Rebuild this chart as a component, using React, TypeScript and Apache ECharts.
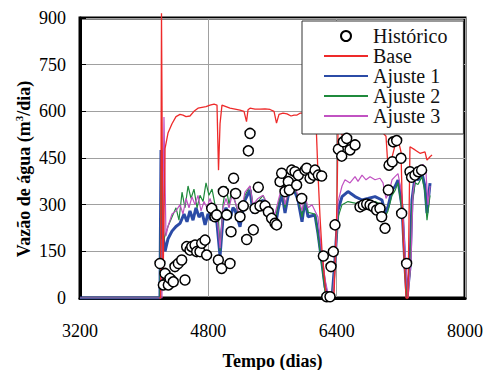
import React, { useEffect, useRef } from "react";
import * as echarts from "echarts";

const FONT = "Liberation Serif";

const xTicks = [3200, 4800, 6400, 8000];
const yTicks = [0, 150, 300, 450, 600, 750, 900];

const historico: [number, number][] = [
  [4197, 111], [4239, 42], [4260, 79], [4301, 42], [4322, 63], [4363, 52], [4384, 101], [4426, 111],
  [4468, 122], [4509, 58], [4530, 165], [4571, 154], [4593, 165], [4634, 170], [4655, 149], [4696, 149],
  [4717, 176], [4759, 186], [4779, 138], [4842, 288], [4883, 261], [4904, 267], [4925, 122], [4966, 95],
  [4987, 342], [5029, 267], [5070, 111], [5083, 213], [5115, 385], [5140, 336], [5195, 261], [5236, 296],
  [5278, 188], [5299, 473], [5320, 529], [5361, 219], [5382, 288], [5423, 356], [5444, 296], [5507, 296],
  [5548, 277], [5589, 256], [5631, 240], [5651, 235], [5694, 374], [5714, 401], [5756, 342], [5797, 374],
  [5810, 347], [5839, 411], [5881, 406], [5901, 363], [5922, 395], [5964, 320], [6005, 411], [6026, 417],
  [6068, 385], [6109, 395], [6130, 411], [6171, 395], [6213, 392], [6234, 135], [6276, 4], [6317, 4],
  [6329, 101], [6358, 149], [6379, 235], [6421, 478], [6463, 456], [6483, 502], [6525, 513], [6566, 476],
  [6629, 492], [6691, 293], [6732, 299], [6774, 302], [6816, 299], [6857, 293], [6898, 283], [6940, 288],
  [6961, 261], [7003, 224], [7044, 347], [7053, 427], [7094, 438], [7106, 502], [7148, 506], [7202, 449],
  [7210, 272], [7272, 111], [7314, 406], [7334, 388], [7376, 395], [7418, 406], [7459, 411],
];

const base: [number, number][] = [
  [4190, 0], [4205, 0], [4216, 915], [4235, 40], [4260, 480], [4297, 530], [4347, 560], [4397, 583],
  [4447, 590], [4484, 588], [4522, 583], [4571, 585], [4621, 600], [4671, 610], [4721, 613], [4771, 615],
  [4821, 620], [4871, 623], [4908, 620], [4927, 411], [4946, 560], [4970, 620], [5020, 615], [5070, 610],
  [5133, 607], [5195, 604], [5245, 600], [5276, 567], [5295, 605], [5320, 610], [5382, 607], [5444, 607],
  [5507, 608], [5569, 606], [5619, 600], [5650, 562], [5681, 590], [5731, 594], [5781, 592], [5831, 585],
  [5868, 588], [5906, 588], [5943, 594], [6005, 594], [6068, 596], [6117, 594], [6142, 570], [6167, 400],
  [6192, 262], [6217, 154], [6267, 10], [6317, 0], [6367, 5], [6404, 300], [6417, 551], [6463, 524],
  [6516, 530], [6591, 530], [6691, 532], [6791, 535], [6903, 535], [6978, 530], [7015, 520], [7040, 420],
  [7078, 440], [7127, 490], [7165, 510], [7202, 470], [7227, 200], [7265, 0], [7289, 0], [7314, 486],
  [7377, 476], [7439, 465], [7501, 470], [7526, 443], [7564, 454], [7589, 460],
];

const ajuste1: [number, number][] = [
  [3200, 0], [4197, 0], [4210, 476], [4235, 200], [4260, 150], [4297, 190], [4347, 215], [4397, 230],
  [4447, 240], [4497, 270], [4534, 245], [4571, 280], [4609, 250], [4646, 290], [4684, 260], [4721, 275],
  [4759, 235], [4796, 270], [4833, 250], [4871, 265], [4908, 240], [4946, 135], [4983, 260], [5020, 290],
  [5070, 255], [5108, 290], [5133, 283], [5195, 229], [5257, 315], [5320, 347], [5357, 273], [5419, 293],
  [5482, 315], [5544, 273], [5631, 225], [5669, 283], [5719, 337], [5756, 273], [5793, 326], [5856, 358],
  [5918, 315], [5968, 245], [6005, 315], [6043, 261], [6130, 267], [6167, 208], [6217, 112], [6255, 36],
  [6292, 0], [6342, 0], [6379, 122], [6417, 283], [6467, 326], [6541, 342], [6629, 326], [6716, 315],
  [6790, 320], [6878, 326], [6965, 315], [7003, 273], [7040, 293], [7090, 347], [7127, 358], [7165, 379],
  [7215, 293], [7252, 100], [7277, 0], [7314, 100], [7339, 315], [7377, 390], [7414, 379], [7464, 401],
  [7501, 358], [7526, 273], [7564, 369],
];

const ajuste2: [number, number][] = [
  [3200, 0], [4197, 0], [4210, 420], [4235, 180], [4260, 200], [4297, 230], [4347, 260], [4397, 290],
  [4434, 250], [4472, 340], [4509, 290], [4547, 360], [4584, 320], [4621, 350], [4659, 290], [4696, 330],
  [4734, 310], [4771, 370], [4808, 330], [4846, 350], [4883, 300], [4921, 280], [4946, 150], [4983, 300],
  [5020, 360], [5058, 300], [5095, 350], [5133, 310], [5195, 250], [5257, 330], [5320, 360], [5357, 290],
  [5419, 310], [5482, 330], [5544, 290], [5631, 240], [5669, 300], [5719, 350], [5756, 290], [5793, 340],
  [5856, 365], [5918, 325], [5968, 260], [6005, 325], [6043, 275], [6130, 270], [6167, 200], [6217, 100],
  [6255, 20], [6292, 0], [6342, 0], [6379, 100], [6417, 260], [6467, 300], [6541, 310], [6629, 305],
  [6716, 300], [6790, 305], [6878, 310], [6965, 300], [7003, 260], [7040, 280], [7090, 330], [7127, 345],
  [7165, 370], [7215, 280], [7252, 80], [7277, 0], [7314, 80], [7339, 300], [7377, 370], [7414, 365],
  [7464, 390], [7501, 340], [7526, 250], [7564, 330],
];

const ajuste3: [number, number][] = [
  [3200, 0], [4222, 0], [4247, 582], [4272, 200], [4297, 230], [4347, 270], [4397, 280], [4447, 300],
  [4484, 270], [4522, 320], [4559, 290], [4596, 325], [4634, 300], [4671, 330], [4709, 280], [4746, 310],
  [4783, 290], [4821, 320], [4858, 290], [4896, 300], [4946, 160], [4983, 290], [5020, 320], [5058, 290],
  [5095, 330], [5133, 310], [5195, 260], [5257, 340], [5320, 360], [5357, 300], [5419, 320], [5482, 330],
  [5544, 300], [5631, 270], [5669, 310], [5719, 360], [5756, 300], [5793, 340], [5856, 370], [5918, 330],
  [5968, 280], [6005, 330], [6043, 290], [6093, 300], [6130, 280], [6167, 260], [6217, 140], [6255, 60],
  [6304, 0], [6354, 20], [6392, 150], [6417, 310], [6467, 360], [6504, 380], [6566, 370], [6629, 390],
  [6666, 375], [6716, 395], [6766, 380], [6816, 390], [6878, 380], [6940, 385], [6978, 370], [7015, 320],
  [7053, 340], [7090, 380], [7127, 390], [7165, 400], [7215, 330], [7252, 150], [7289, 0], [7327, 120],
  [7352, 340], [7389, 400], [7427, 410], [7476, 430], [7514, 400], [7539, 300], [7564, 360],
];

const legendNames = ["Histórico", "Base", "Ajuste 1", "Ajuste 2", "Ajuste 3"];

export default function App() {
  const ref = useRef<HTMLDivElement>(null);
  useEffect(() => {
    if (!ref.current) return;
    const chart = echarts.init(ref.current, null, { renderer: "svg" });
    const lineSeries = (name: string, data: [number, number][], color: string, width: number, clip = true) => ({
      name,
      type: "line",
      data,
      showSymbol: false,
      symbol: "none",
      lineStyle: { color, width },
      itemStyle: { color },
      clip,
    });
    const hiddenSymbol = { opacity: 0, borderWidth: 0 };
    chart.setOption({
      animation: false,
      backgroundColor: "#fff",
      textStyle: { fontFamily: FONT },
      grid: {
        left: 80,
        right: 21,
        top: 18,
        bottom: 72,
        containLabel: false,
        outerBoundsMode: "none",
        show: true,
        borderColor: "#000",
        borderWidth: 3,
      },
      xAxis: {
        type: "value",
        min: xTicks[0],
        max: xTicks[xTicks.length - 1],
        interval: 1600,
        name: "Tempo (dias)",
        nameLocation: "middle",
        nameGap: 54,
        nameTextStyle: { fontFamily: FONT, fontWeight: "bold", fontSize: 18, color: "#000" },
        axisLine: { show: true, lineStyle: { color: "#000", width: 3 } },
        axisTick: { show: false },
        axisLabel: {
          fontFamily: FONT,
          fontSize: 18,
          color: "#000",
          margin: 24,
          formatter: (v: number) => String(v),
        },
        splitLine: { show: true, lineStyle: { color: "#a0a0a0", width: 1 } },
      },
      yAxis: {
        type: "value",
        min: yTicks[0],
        max: yTicks[yTicks.length - 1],
        interval: 150,
        axisLine: { show: true, lineStyle: { color: "#000", width: 3 } },
        axisTick: { show: true, inside: true, length: 6, lineStyle: { color: "#000", width: 1 } },
        axisLabel: { fontFamily: FONT, fontSize: 18, color: "#000", margin: 14 },
        splitLine: { show: true, lineStyle: { color: "#a0a0a0", width: 1 } },
      },
      legend: {
        orient: "vertical",
        left: 302,
        top: 21,
        padding: [5, 16, 8, 21],
        itemGap: 0,
        itemWidth: 44,
        itemHeight: 10,
        backgroundColor: "#fff",
        borderColor: "#333",
        borderWidth: 1,
        borderRadius: 0,
        textStyle: { fontFamily: FONT, fontSize: 20, color: "#111", lineHeight: 17 },
        data: [
          { name: legendNames[0], icon: "circle" },
          { name: legendNames[1], itemStyle: hiddenSymbol },
          { name: legendNames[2], itemStyle: hiddenSymbol },
          { name: legendNames[3], itemStyle: hiddenSymbol },
          { name: legendNames[4], itemStyle: hiddenSymbol },
        ],
      },
      graphic: [
        {
          type: "text",
          x: 24,
          y: 169,
          rotation: Math.PI / 2,
          style: {
            text: "{n|Vazão de água (m}{s|3}{n|/dia)}",
            align: "center",
            verticalAlign: "middle",
            rich: {
              n: { fontFamily: FONT, fontWeight: "bold", fontSize: 18, fill: "#000" },
              s: { fontFamily: FONT, fontWeight: "bold", fontSize: 11, fill: "#000", padding: [0, 0, 10, 0] },
            },
          },
        },
      ],
      series: [
        lineSeries(legendNames[2], ajuste1, "#2b4ba6", 3),
        lineSeries(legendNames[3], ajuste2, "#1f8a3c", 1.2),
        lineSeries(legendNames[4], ajuste3, "#c152c2", 1.2),
        lineSeries(legendNames[1], base, "#ee2a2a", 1.3, false),
        {
          name: legendNames[0],
          type: "scatter",
          data: historico,
          symbol: "circle",
          symbolSize: 10,
          itemStyle: { color: "#fff", borderColor: "#000", borderWidth: 1.5, opacity: 1 },
          z: 5,
        },
      ],
    });
    return () => chart.dispose();
  }, []);
  return <div ref={ref} style={{ width: 486, height: 370, position: "absolute", left: 0, top: 0 }} />;
}
